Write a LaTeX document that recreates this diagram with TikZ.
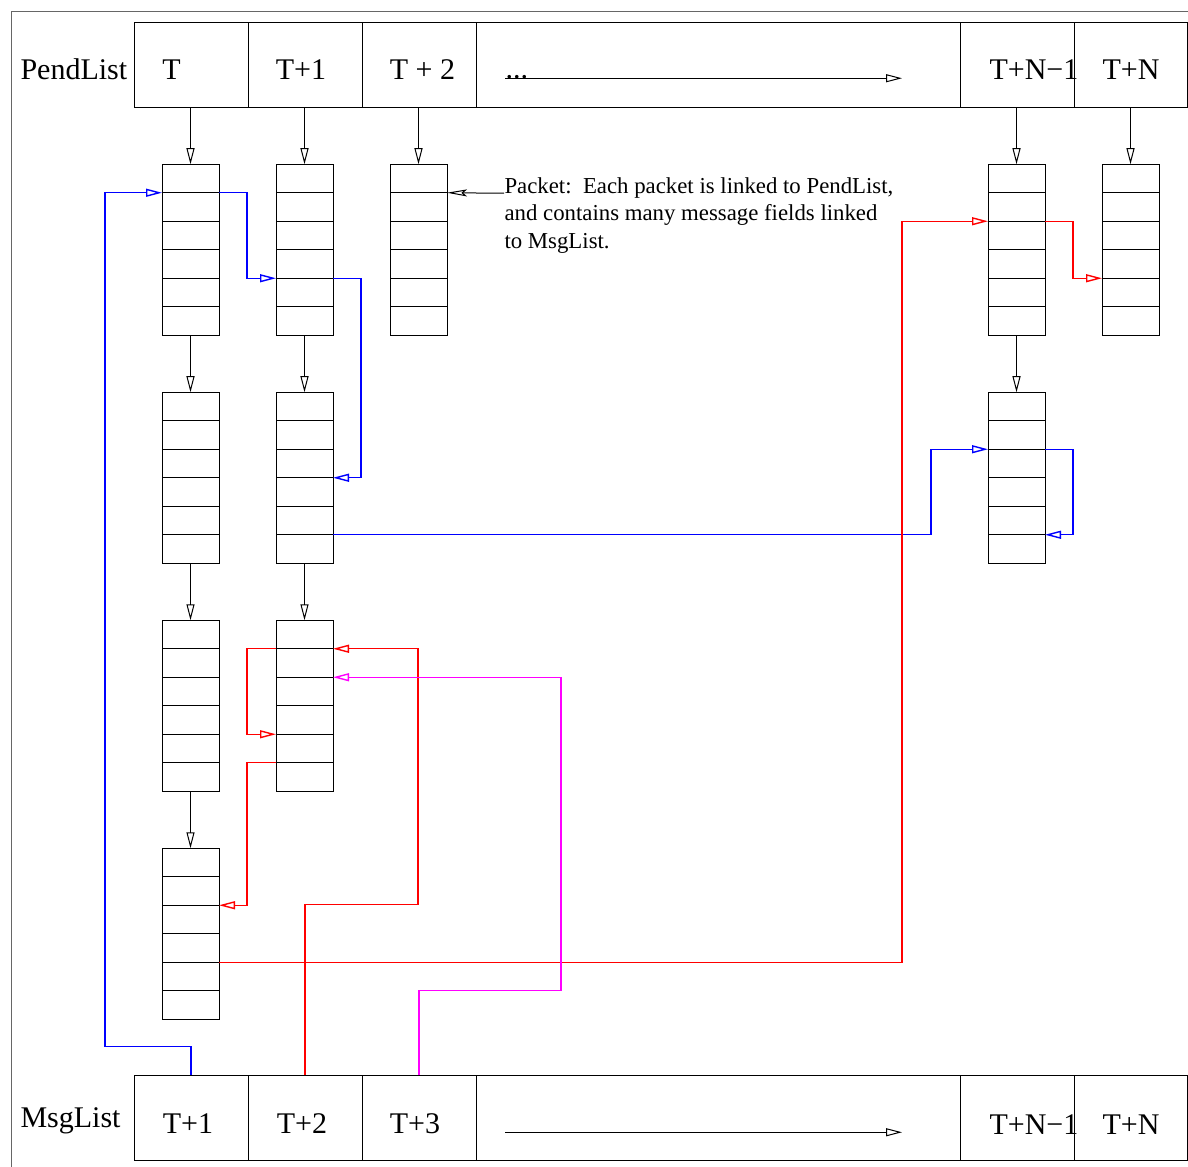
\documentclass[tikz,border=0pt]{standalone}
\usepackage{fontspec}
\setmainfont{Liberation Serif}
\usetikzlibrary{arrows.meta,calc}
\definecolor{lnblue}{RGB}{0,0,255}
\definecolor{lnred}{RGB}{255,0,0}
\definecolor{lnmag}{RGB}{255,0,255}
\tikzset{
  every path/.style={line width=0.5bp},
  oa/.style={-{Triangle[open,length=8bp,width=4bp]}},
  notearrow/.style={-{Stealth[open,length=10bp,width=3.5bp,inset=2bp]}},
  cell/.style={draw,rectangle,inner sep=0pt,outer sep=0pt,minimum height=42.5bp},
  packet/.style={draw,rectangle,inner sep=0pt,outer sep=0pt,minimum width=28.5bp,minimum height=85.5bp},
  rowline/.style={draw},
  lbl/.style={inner sep=0pt,font=\fontsize{15bp}{18bp}\selectfont},
  note/.style={inner sep=0pt,font=\fontsize{11.4bp}{13.75bp}\selectfont},
  frame/.style={draw=black!60},
  bl/.style={draw=lnblue,oa,line width=0.7bp},
  rd/.style={draw=lnred,oa,line width=0.7bp},
  mg/.style={draw=lnmag,oa,line width=0.7bp}
}
\newcommand\mkpacket[3]{%
  \node[packet] (#1) at (#2,#3) {};
  \foreach \k in {1,...,5}{%
    \coordinate (#1-L\k) at ($(#1.north west)!\k/6!(#1.south west)$);
    \coordinate (#1-R\k) at ($(#1.north east)!\k/6!(#1.south east)$);
    \draw[rowline] (#1-L\k) -- (#1-R\k);
  }%
}
\begin{document}
\begin{tikzpicture}[x=0.5bp,y=-0.5bp]
\useasboundingbox (0,0) rectangle (1188,1167);
\begin{scope}[shift={(0,0.25)}]
% outer frame (clipped at right and bottom)
\draw[frame] (11,1167) -- (11,11) -- (1188,11);

% PendList bar
\node[cell,minimum width=57bp] (pc1) at (191,64.5) {};
\node[cell,minimum width=57bp] (pc2) at (305,64.5) {};
\node[cell,minimum width=57bp] (pc3) at (419,64.5) {};
\node[cell,minimum width=242bp] (pc4) at (718,64.5) {};
\node[cell,minimum width=57bp] (pc5) at (1017,64.5) {};
\node[cell,minimum width=56.5bp] (pc6) at (1130.5,64.5) {};
\node[lbl,anchor=base west] (plab) at (20,79) {PendList};
\node[lbl,anchor=base] (pt1) at (171.5,79) {T};
\node[lbl,anchor=base] (pt2) at (301,79) {T+1};
\node[lbl,anchor=base] (pt3) at (422.5,79) {T + 2};
\node[lbl,anchor=base west] (pdots) at (505,78) {...};
\coordinate (pend) at (902,78);
\draw[oa] (pdots.base west) -- (pend);
\node[lbl,anchor=base west] (pt5) at (989,79) {T+N−1};
\node[lbl,anchor=base west] (pt6) at (1102,79) {T+N};

% MsgList bar
\node[cell,minimum width=57bp] (mc1) at (191,1117.5) {};
\node[cell,minimum width=57bp] (mc2) at (305,1117.5) {};
\node[cell,minimum width=57bp] (mc3) at (419,1117.5) {};
\node[cell,minimum width=242bp] (mc4) at (718,1117.5) {};
\node[cell,minimum width=57bp] (mc5) at (1017,1117.5) {};
\node[cell,minimum width=56.5bp] (mc6) at (1130.5,1117.5) {};
\node[lbl,anchor=base west] (mlab) at (20,1127) {MsgList};
\node[lbl,anchor=base] (mt1) at (188,1133.5) {T+1};
\node[lbl,anchor=base] (mt2) at (302,1133.5) {T+2};
\node[lbl,anchor=base] (mt3) at (415,1133.5) {T+3};
\coordinate (ms) at (505,1132);
\coordinate (me) at (902,1132);
\draw[oa] (ms) -- (me);
\node[lbl,anchor=base west] (mt5) at (989,1134) {T+N−1};
\node[lbl,anchor=base west] (mt6) at (1102,1134) {T+N};

% packets
\mkpacket{p11}{190.5}{249.5}
\mkpacket{p12}{304.5}{249.5}
\mkpacket{p13}{418.5}{249.5}
\mkpacket{pA1}{1016.5}{249.5}
\mkpacket{pB1}{1130.5}{249.5}
\mkpacket{p21}{190.5}{477.5}
\mkpacket{p22}{304.5}{477.5}
\mkpacket{pA2}{1016.5}{477.5}
\mkpacket{p31}{190.5}{705.5}
\mkpacket{p32}{304.5}{705.5}
\mkpacket{p41}{190.5}{933.5}

% PendList -> first packets
\draw[oa] (p11.north |- pc1.south) -- (p11.north);
\draw[oa] (p12.north |- pc2.south) -- (p12.north);
\draw[oa] (p13.north |- pc3.south) -- (p13.north);
\draw[oa] (pA1.north |- pc5.south) -- (pA1.north);
\draw[oa] (pB1.north |- pc6.south) -- (pB1.north);
% packet chains
\draw[oa] (p11.south) -- (p21.north);
\draw[oa] (p21.south) -- (p31.north);
\draw[oa] (p31.south) -- (p41.north);
\draw[oa] (p12.south) -- (p22.north);
\draw[oa] (p22.south) -- (p32.north);
\draw[oa] (pA1.south) -- (pA2.north);

% annotation
\node[note,anchor=base west] (ann) at (504,193) {\begin{tabular}[t]{@{}l@{}}Packet:\ \ Each packet is linked to PendList,\\and contains many message fields linked\\to MsgList.\end{tabular}};
\draw[notearrow] (ann.base west) -- (p13-R1);

% blue links
\draw[bl] (mc1.north) -- ++(0,-29) -| ($(p11-L1)+(-57,0)$) -- (p11-L1);
\draw[bl] (p11-R1) -- ++(28,0) |- (p12-L4);
\draw[bl] (p12-R4) -- ++(28,0) |- (p22-R3);
\draw[bl] (p22-R5) -| ($(pA2-L2)+(-57,0)$) -- (pA2-L2);
\draw[bl] (pA2-R2) -- ++(28,0) |- (pA2-R5);

% red links
\draw[rd] (mc2.north) -- ++(0,-171) -| ($(p32-R1)+(85,0)$) -- (p32-R1);
\draw[rd] (p32-L1) -- ++(-29,0) |- (p32-L4);
\draw[rd] (p32-L5) -- ++(-29,0) |- (p41-R2);
\draw[rd] (p41-R4) -| ($(pA1-L2)+(-86,0)$) -- (pA1-L2);
\draw[rd] (pA1-R2) -- ++(28,0) |- (pB1-L4);

% magenta link
\draw[mg] (mc3.north) -- ++(0,-85) -| ($(p32-R2)+(228,0)$) -- (p32-R2);
\end{scope}
\end{tikzpicture}
\end{document}
